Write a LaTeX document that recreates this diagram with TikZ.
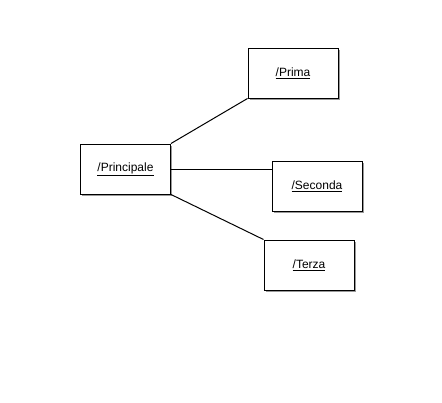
\documentclass[tikz,border=0pt]{standalone}
\usepackage{fontspec}
\setmainfont{Liberation Sans}
\usetikzlibrary{shadows}

\begin{document}
\begin{tikzpicture}
[pg/.style={draw,line width=1pt,fill=white,minimum width=90pt,minimum height=50pt,inner sep=0pt
  ,font=\fontsize{12}{14}\selectfont
  ,drop shadow={shadow xshift=1.5pt,shadow yshift=-1.5pt,fill=black!40,opacity=1}}
,ln/.style={draw=black,line width=1pt}
,x=1pt,y=-1pt]
\useasboundingbox (0,0) rectangle (442,402);
\node[pg] (princ) at (125.5,169) {\underline{/Principale}};
\node[pg] (prima) at (293,73) {\underline{/Prima}};
\node[pg] (seconda) at (317,186) {\underline{/Seconda}};
\node[pg] (terza) at (309,265) {\underline{/Terza}};
\draw[ln] (princ.north east) -- (prima.south west);
\draw[ln] (princ.east) -- (seconda.west |- princ.east);
\draw[ln] (princ.south east) -- (terza.north west);
\end{tikzpicture}
\end{document}
